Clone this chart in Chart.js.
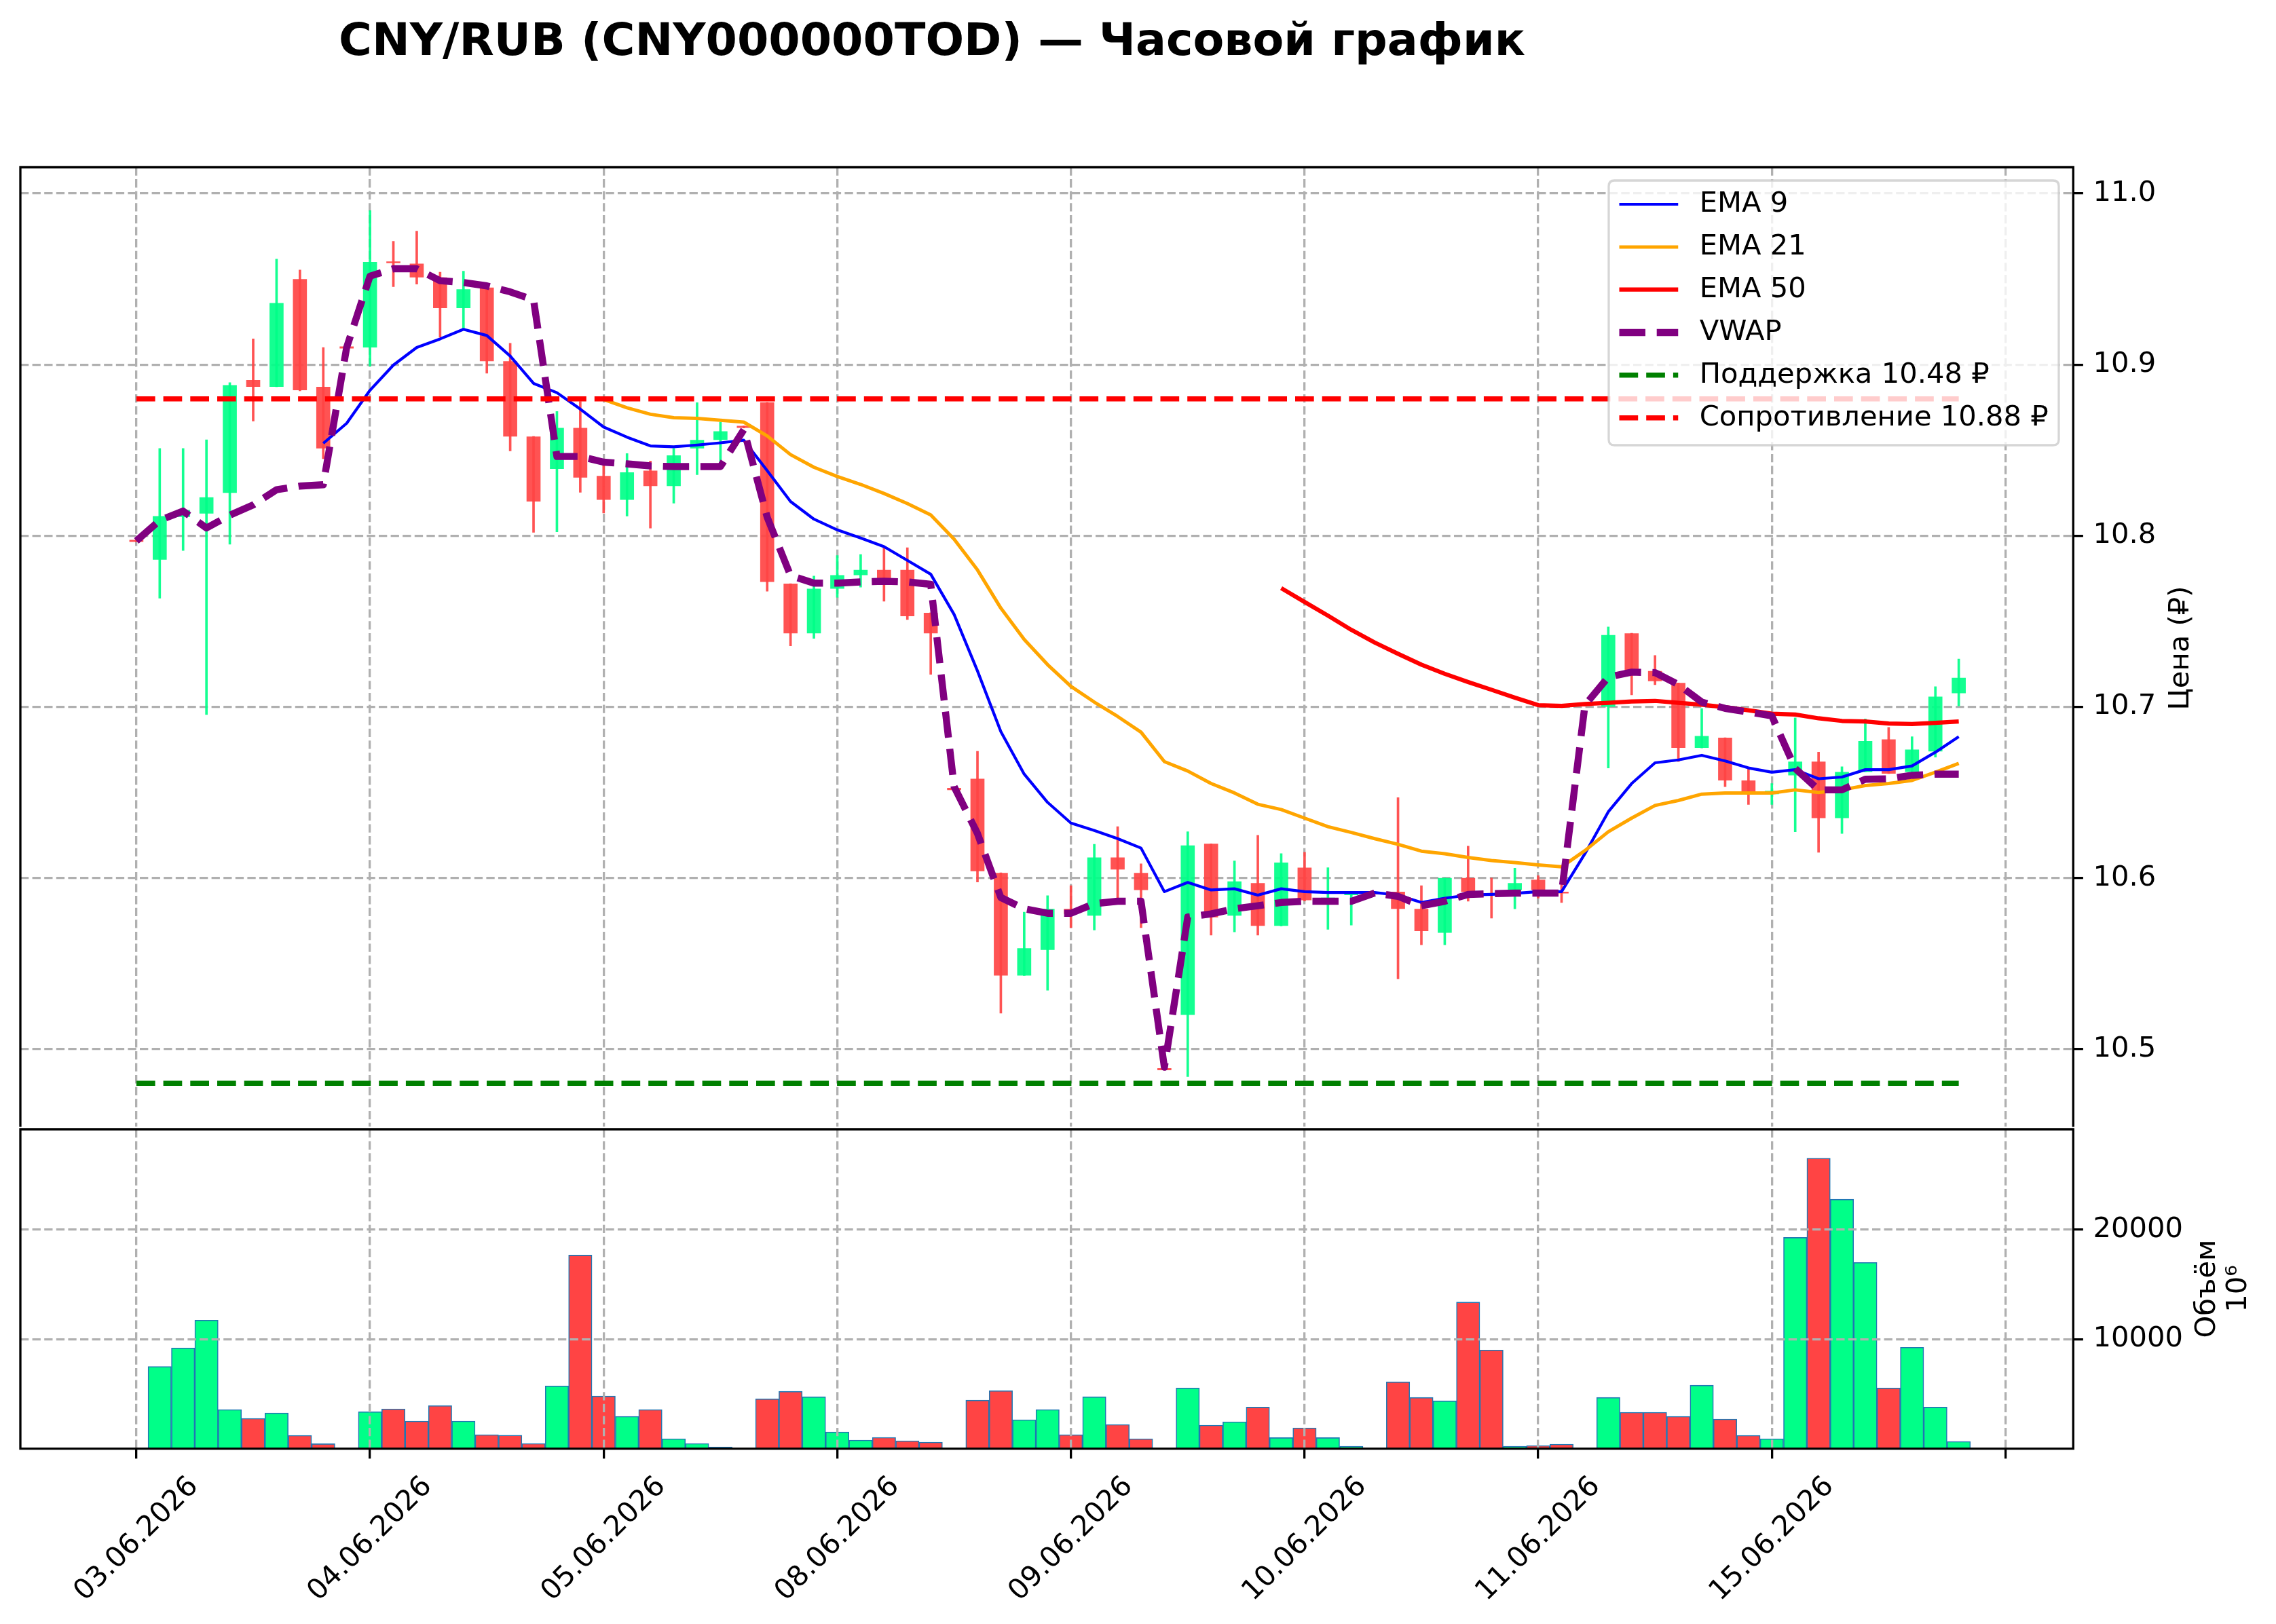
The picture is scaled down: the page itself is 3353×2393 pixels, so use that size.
<!DOCTYPE html>
<html><head><meta charset="utf-8">
<script src="https://cdn.jsdelivr.net/npm/chart.js@4.4.1/dist/chart.umd.min.js"></script>
<style>
html,body{margin:0;padding:0;background:#fff;}
#wrap{position:relative;width:3353px;height:2393px;background:#fff;overflow:hidden;}
#pc{position:absolute;left:0;top:0;}
#vc{position:absolute;left:0;top:1600px;}
</style></head><body>
<div id="wrap"><canvas id="pc" width="3353" height="1700"></canvas><canvas id="vc" width="3353" height="793"></canvas></div>
<script>
// ---------- DATA ----------
const tickPositions = [0,10,20,30,40,50,60,70,80];
const tickLabels = ['03.06.2026','04.06.2026','05.06.2026','08.06.2026','09.06.2026','10.06.2026','11.06.2026','15.06.2026',''];
const opens = [10.7976,10.786,10.811,10.813,10.825,10.891,10.887,10.950,10.887,10.9106,
  10.910,10.9603,10.959,10.951,10.933,10.945,10.902,10.858,10.839,10.863,
  10.835,10.821,10.838,10.829,10.851,10.856,10.8642,10.878,10.772,10.743,
  10.769,10.777,10.780,10.780,10.755,10.6526,10.658,10.603,10.543,10.558,
  10.582,10.578,10.612,10.603,10.4889,10.520,10.620,10.578,10.597,10.572,
  10.606,10.587,10.590,10.5916,10.592,10.582,10.568,10.600,10.591,10.593,
  10.599,10.592,10.7016,10.700,10.743,10.721,10.714,10.676,10.682,10.657,
  10.649,10.660,10.668,10.635,10.662,10.681,10.662,10.674,10.708];
const highs = [10.7976,10.851,10.851,10.856,10.8895,10.915,10.9616,10.9553,10.910,10.9106,
  10.990,10.972,10.978,10.954,10.9546,10.9455,10.9125,10.858,10.8726,10.8785,
  10.842,10.848,10.8437,10.851,10.8778,10.8664,10.8642,10.878,10.772,10.7764,
  10.7884,10.789,10.793,10.793,10.755,10.6526,10.674,10.603,10.580,10.5897,
  10.5955,10.6197,10.630,10.6083,10.4889,10.627,10.620,10.610,10.625,10.6142,
  10.615,10.606,10.5915,10.5916,10.647,10.5955,10.600,10.6186,10.600,10.6057,
  10.6014,10.6015,10.7016,10.7467,10.743,10.730,10.714,10.699,10.682,10.6643,
  10.6552,10.6936,10.6735,10.665,10.693,10.688,10.6826,10.7118,10.728];
const lows = [10.7964,10.7635,10.7914,10.6955,10.795,10.867,10.887,10.8847,10.845,10.9094,
  10.899,10.9455,10.947,10.916,10.921,10.895,10.8496,10.802,10.8023,10.8254,
  10.8133,10.8115,10.8045,10.819,10.8357,10.839,10.8630,10.7676,10.7357,10.740,
  10.764,10.770,10.7617,10.751,10.719,10.6514,10.5977,10.521,10.543,10.5344,
  10.571,10.5696,10.5864,10.571,10.4877,10.4839,10.5666,10.5685,10.5666,10.572,
  10.5865,10.570,10.5725,10.5904,10.541,10.561,10.561,10.5864,10.5765,10.582,
  10.5882,10.5857,10.7004,10.6643,10.707,10.713,10.668,10.676,10.6534,10.643,
  10.643,10.627,10.615,10.626,10.662,10.661,10.659,10.6706,10.7006];
const closes = [10.7964,10.8115,10.815,10.8225,10.888,10.887,10.936,10.885,10.851,10.9094,
  10.960,10.9593,10.951,10.933,10.944,10.902,10.858,10.820,10.863,10.834,
  10.821,10.837,10.829,10.847,10.856,10.861,10.8630,10.773,10.743,10.769,
  10.777,10.780,10.774,10.753,10.743,10.6514,10.604,10.543,10.559,10.582,
  10.579,10.612,10.605,10.593,10.4877,10.619,10.577,10.598,10.572,10.609,
  10.587,10.5885,10.591,10.5904,10.582,10.569,10.600,10.592,10.590,10.597,
  10.593,10.591,10.7004,10.742,10.719,10.715,10.676,10.683,10.657,10.649,
  10.651,10.668,10.635,10.662,10.680,10.661,10.675,10.706,10.717];
const volumes = [0,7505,9196,11732,3567,2763,3258,1216,454,0,
  3381,3629,2515,3938,2515,1278,1237,474,5732,17670,
  4804,2948,3567,907,474,165,0,4557,5237,4742,
  1526,784,1031,722,598,0,4433,5299,2639,3567,
  1278,4742,2206,907,40,5546,2144,2454,3794,1010,
  1897,1010,227,0,6103,4680,4371,13381,9010,227,
  289,412,40,4680,3320,3320,2948,5794,2701,1216,
  907,19278,26515,22763,16990,5546,9258,3794,660];
const ema9 = [null,null,null,null,null,null,null,null,10.854,10.8657,
  10.885,10.8997,10.910,10.915,10.9206,10.917,10.905,10.889,10.8836,10.874,
  10.8635,10.8576,10.8525,10.852,10.853,10.8543,10.8558,10.838,10.820,10.8097,
  10.8034,10.7987,10.7936,10.7856,10.7775,10.754,10.721,10.6856,10.6607,10.6442,
  10.6321,10.6278,10.623,10.6175,10.592,10.5974,10.593,10.5937,10.590,10.5937,
  10.592,10.5915,10.5915,10.5915,10.590,10.5857,10.5882,10.590,10.5904,10.591,
  10.592,10.592,10.6142,10.6387,10.6552,10.6673,10.669,10.6717,10.6684,10.6643,
  10.6618,10.6633,10.658,10.659,10.6633,10.6633,10.6655,10.6735,10.6826];
const ema21 = [null,null,null,null,null,null,null,null,null,null,
  null,null,null,null,null,null,null,null,null,null,
  10.8796,10.8748,10.871,10.869,10.8686,10.8675,10.8664,10.8583,10.8474,10.840,
  10.8346,10.830,10.8247,10.8188,10.8122,10.798,10.780,10.7577,10.7394,10.7247,
  10.712,10.7028,10.6944,10.6852,10.668,10.6625,10.6552,10.6497,10.6431,10.640,
  10.635,10.630,10.6266,10.623,10.6197,10.6157,10.6142,10.612,10.6102,10.609,
  10.6076,10.6065,10.616,10.627,10.635,10.6424,10.6453,10.649,10.6497,10.6497,
  10.6497,10.6515,10.650,10.6515,10.654,10.6552,10.657,10.6618,10.667];
const ema50 = [null,null,null,null,null,null,null,null,null,null,
  null,null,null,null,null,null,null,null,null,null,
  null,null,null,null,null,null,null,null,null,null,
  null,null,null,null,null,null,null,null,null,null,
  null,null,null,null,null,null,null,null,null,10.7694,
  10.7613,10.7533,10.745,10.7376,10.731,10.7247,10.7193,10.7145,10.710,10.7054,
  10.701,10.7006,10.7017,10.7024,10.7032,10.7035,10.7024,10.7013,10.6998,10.698,
  10.696,10.6955,10.6933,10.6918,10.6915,10.6903,10.690,10.6907,10.6915];
const vwap = [10.797,10.809,10.8144,10.8045,10.812,10.818,10.8269,10.829,10.8298,10.910,
  10.9517,10.956,10.956,10.949,10.948,10.946,10.9425,10.9378,10.8463,10.8463,
  10.843,10.842,10.8408,10.8404,10.8404,10.8404,10.862,10.8108,10.7767,10.7723,
  10.7723,10.773,10.7734,10.773,10.7716,10.6534,10.626,10.5886,10.582,10.5794,
  10.5794,10.585,10.5864,10.5864,10.4894,10.5772,10.579,10.582,10.5838,10.5857,
  10.5864,10.5864,10.5864,10.5912,10.5893,10.5838,10.5864,10.5904,10.5908,10.5912,
  10.5912,10.5912,10.701,10.7174,10.7203,10.72,10.713,10.7028,10.6991,10.697,
  10.6947,10.664,10.6515,10.6515,10.6577,10.658,10.66,10.6607,10.6607];
const supportLevel = 10.48;
const resistanceLevel = 10.88;
const priceTicks = [10.5,10.6,10.7,10.8,10.9,11.0];
const volumeTicks = [10000,20000];

// ---------- STYLE ----------
const FS = 41.67;
const FONT = '"DejaVu Sans", sans-serif';
Chart.defaults.font.family = FONT;
Chart.defaults.font.size = FS;
Chart.defaults.color = '#000';
const GRID = '#b0b0b0';
const X_MIN = -4.965, X_MAX = 82.9;
const Y_AXIS_W = 298.7;
const idx = opens.map((_, i) => i);
const up = idx.map(i => closes[i] >= opens[i]);
const candleCol = idx.map(i => up[i] ? 'rgba(0,255,136,0.92)' : 'rgba(255,68,68,0.92)');
const volCol = idx.map(i => up[i] ? '#00ff88' : '#ff4444');
const pts = arr => arr.map((v, i) => ({x: i, y: v}));
const last = opens.length - 1;

function makeFrame(skipBottom){
  return {id:'frame', afterDraw(chart){
    const {ctx, chartArea:a} = chart;
    ctx.save(); ctx.strokeStyle = '#000'; ctx.lineWidth = 3.3;
    ctx.beginPath();
    if (skipBottom) {
      ctx.moveTo(a.left, a.bottom); ctx.lineTo(a.left, a.top); ctx.lineTo(a.right, a.top); ctx.lineTo(a.right, a.bottom);
    } else {
      ctx.rect(a.left, a.top, a.right - a.left, a.bottom - a.top);
    }
    ctx.stroke();
    ctx.restore();
  }};
}

function vText(ctx, text, x, y, font){
  ctx.save(); ctx.translate(x, y); ctx.rotate(-Math.PI/2);
  ctx.font = font; ctx.fillStyle = '#000'; ctx.textAlign = 'center'; ctx.textBaseline = 'middle';
  ctx.fillText(text, 0, 0); ctx.restore();
}

const priceDecor = {id:'priceDecor', afterDraw(chart){
  const ctx = chart.ctx;
  ctx.save();
  ctx.font = 'bold 66.7px ' + FONT; ctx.fillStyle = '#000';
  ctx.textAlign = 'center'; ctx.textBaseline = 'alphabetic';
  ctx.fillText('CNY/RUB (CNY000000TOD) — Часовой график', 1373, 81);
  ctx.restore();
  vText(ctx, 'Цена (₽)', 3213, 955, FS + 'px ' + FONT);
  const items = chart.data.datasets.filter(d => d.inLegend);
  const bx = 2370, by = 266, bw = 663, bh = 390, r = 8.3;
  ctx.save();
  ctx.beginPath();
  ctx.moveTo(bx + r, by); ctx.lineTo(bx + bw - r, by); ctx.quadraticCurveTo(bx + bw, by, bx + bw, by + r);
  ctx.lineTo(bx + bw, by + bh - r); ctx.quadraticCurveTo(bx + bw, by + bh, bx + bw - r, by + bh);
  ctx.lineTo(bx + r, by + bh); ctx.quadraticCurveTo(bx, by + bh, bx, by + bh - r);
  ctx.lineTo(bx, by + r); ctx.quadraticCurveTo(bx, by, bx + r, by); ctx.closePath();
  ctx.fillStyle = 'rgba(255,255,255,0.8)'; ctx.fill();
  ctx.strokeStyle = 'rgba(204,204,204,0.8)'; ctx.lineWidth = 3.3; ctx.stroke();
  const rows = [301, 364, 426.7, 490, 552.7, 615.7];
  items.forEach((d, k) => {
    const y = rows[k];
    ctx.save();
    ctx.beginPath(); ctx.rect(2384.5, y - 20, 88, 40); ctx.clip();
    ctx.beginPath(); ctx.moveTo(2385.5, y); ctx.lineTo(2472.5, y);
    ctx.strokeStyle = d.borderColor; ctx.lineWidth = d.borderWidth;
    ctx.setLineDash(d.borderDash || []); ctx.lineCap = 'butt'; ctx.stroke();
    ctx.restore();
    ctx.font = FS + 'px ' + FONT; ctx.fillStyle = '#000';
    ctx.textAlign = 'left'; ctx.textBaseline = 'middle';
    ctx.fillText(d.label, 2503.7, y);
  });
  ctx.restore();
}};

const volDecor = {id:'volDecor', afterDraw(chart){
  const ctx = chart.ctx;
  vText(ctx, 'Объём', 3252, 299, FS + 'px ' + FONT);
  vText(ctx, '10⁶', 3298, 299, FS + 'px ' + FONT);
}};

const setXTicks = s => { s.ticks = tickPositions.map(v => ({value: v})); };
const lineDs = (label, data, color, width, order, dash) => ({
  type:'line', label, data, borderColor: color, borderWidth: width, borderDash: dash || [],
  pointRadius: 0, tension: 0, fill: false, spanGaps: false, order, inLegend: true,
  borderJoinStyle: 'round', borderCapStyle: 'butt'
});

new Chart(document.getElementById('pc'), {
  type: 'bar',
  data: { datasets: [
    { type:'bar', label:'wicks', data: idx.map(i => ({x:i, y:[lows[i], highs[i]]})),
      backgroundColor: candleCol, borderWidth: 0, grouped: false, maxBarThickness: 3,
      barPercentage: 1, categoryPercentage: 1, order: 7 },
    { type:'bar', label:'bodies', data: idx.map(i => ({x:i, y:[opens[i], closes[i]]})),
      backgroundColor: candleCol, borderWidth: 0, grouped: false,
      barPercentage: 0.6, categoryPercentage: 1, order: 6 },
    lineDs('EMA 9', pts(ema9), '#0000ff', 4.2, 5),
    lineDs('EMA 21', pts(ema21), '#ffa500', 5, 4),
    lineDs('EMA 50', pts(ema50), '#ff0000', 6.25, 3),
    lineDs('VWAP', pts(vwap), '#800080', 10.4, 2, [38.5, 16.7]),
    lineDs('Поддержка ' + supportLevel.toFixed(2) + ' ₽', [{x:0, y:supportLevel}, {x:last, y:supportLevel}], '#008000', 7.5, 1, [27.7, 12]),
    lineDs('Сопротивление ' + resistanceLevel.toFixed(2) + ' ₽', [{x:0, y:resistanceLevel}, {x:last, y:resistanceLevel}], '#ff0000', 7.5, 0, [27.7, 12])
  ]},
  options: {
    responsive: false, animation: false, devicePixelRatio: 1, events: [],
    layout: { padding: { top: 246.5, left: 30, right: 0, bottom: 36 } },
    plugins: { legend: { display: false }, tooltip: { enabled: false }, title: { display: false } },
    scales: {
      x: { type: 'linear', min: X_MIN, max: X_MAX, offset: false,
        grid: { offset: false, color: GRID, lineWidth: 3.3, drawTicks: false, z: 0 },
        border: { display: false, dash: [12.3, 5.3] },
        ticks: { display: false },
        afterBuildTicks: setXTicks,
        afterFit: s => { s.height = 0; } },
      y: { type: 'linear', position: 'right', min: 10.4546, max: 11.0153, beginAtZero: false,
        grid: { color: GRID, lineWidth: 3.3, drawTicks: true, tickLength: 14.6, tickColor: '#000', tickWidth: 3.3, tickBorderDash: [] },
        border: { display: false, dash: [12.3, 5.3] },
        ticks: { padding: 14.6, callback: v => Number(v).toFixed(1) },
        afterBuildTicks: s => { s.ticks = priceTicks.map(v => ({value: v})); },
        afterFit: s => { s.width = Y_AXIS_W; } }
    }
  },
  plugins: [makeFrame(true), priceDecor]
});

new Chart(document.getElementById('vc'), {
  type: 'bar',
  data: { datasets: [
    { type:'bar', label:'Объём', data: idx.map(i => ({x:i, y:volumes[i]})),
      backgroundColor: volCol, borderColor: 'rgba(31,119,180,1)', borderWidth: 1.6, borderSkipped: false,
      grouped: false, barPercentage: 1, categoryPercentage: 1 }
  ]},
  options: {
    responsive: false, animation: false, devicePixelRatio: 1, events: [],
    layout: { padding: { top: 64, left: 30, right: 0, bottom: 0 } },
    plugins: { legend: { display: false }, tooltip: { enabled: false }, title: { display: false } },
    scales: {
      x: { type: 'linear', min: X_MIN, max: X_MAX, offset: false,
        grid: { offset: false, color: GRID, lineWidth: 3.3, drawTicks: true, tickLength: 14.6, tickColor: '#000', tickWidth: 3.3, tickBorderDash: [], z: 1 },
        border: { display: false, dash: [12.3, 5.3] },
        ticks: { autoSkip: false, maxRotation: 45, minRotation: 45, padding: 17, labelOffset: 85,
          callback: v => { const k = tickPositions.indexOf(v); return k >= 0 ? tickLabels[k] : ''; } },
        afterBuildTicks: setXTicks,
        afterFit: s => { s.height = 258.3; } },
      y: { type: 'linear', position: 'right', min: 0, max: 29150, beginAtZero: true,
        grid: { color: GRID, lineWidth: 3.3, drawTicks: true, tickLength: 14.6, tickColor: '#000', tickWidth: 3.3, tickBorderDash: [], z: 1 },
        border: { display: false, dash: [12.3, 5.3] },
        ticks: { padding: 14.6, callback: v => String(v) },
        afterBuildTicks: s => { s.ticks = volumeTicks.map(v => ({value: v})); },
        afterFit: s => { s.width = Y_AXIS_W; } }
    }
  },
  plugins: [makeFrame(false), volDecor]
});
</script>
</body></html>
